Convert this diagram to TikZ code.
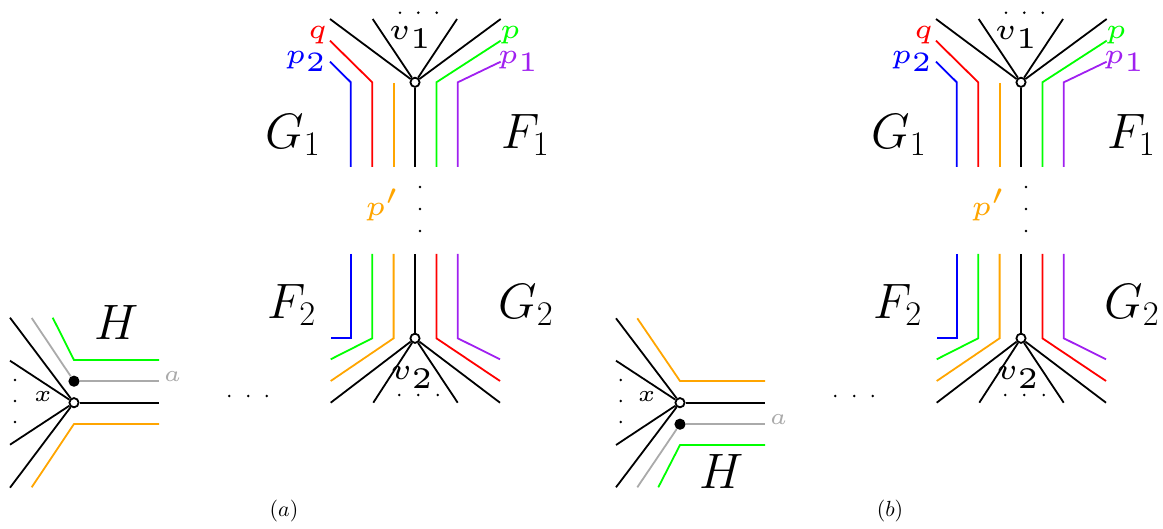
\documentclass[tikz,border=0pt]{standalone}
\usepackage{graphicx}
\usetikzlibrary{calc}
\definecolor{pathgreen}{RGB}{0,255,0}
\definecolor{pathorange}{RGB}{255,165,0}
\definecolor{pathpurple}{RGB}{160,32,240}
\definecolor{pathgray}{RGB}{170,170,170}
% small labels: tiny type blown up, as in the original figure
\newcommand{\tinytag}[2]{\scalebox{#1}{\tiny #2}}
\tikzset{
  vertex/.style={circle,draw=black,fill=white,line width=0.9pt,
    minimum size=4.6pt,inner sep=0pt},
  joint/.style={circle,fill=black,minimum size=5.6pt,inner sep=0pt},
  edge/.style={draw=black,line width=0.9pt},
  route/.style={line width=0.9pt},
  big label/.style={inner sep=0pt,font=\fontsize{24}{28}\selectfont},
  path label/.style={inner sep=0pt},
  end label/.style={inner sep=0pt},
  ell/.style={fill=black},
}

\begin{document}
\begin{tikzpicture}[x=0.5pt,y=-0.5pt]
  \path[use as bounding box] (0,0) rectangle (1163,529);
  % the central part (v1, v2 and the paths) is the same in (a) and (b)
  \foreach \s/\t in {0/a,606/b} {
  \begin{scope}[shift={(\s,0)}]
    \node[vertex] (v1\t) at (415,82.3) {};
    \node[vertex] (v2\t) at (415,338.3) {};
    \foreach \ex in {330,372.7,457,500.7} {\draw[edge] (v1\t) -- (\ex,19);}
    \draw[edge] (v1\t) -- (415,167);
    \draw[route,blue] (330,61.7) -- (350.8,82.3) -- (350.8,167);
    \draw[route,red] (330,40.7) -- (372.2,82.3) -- (372.2,167);
    \draw[route,pathorange] (393.6,83) -- (393.6,167);
    \draw[route,pathgreen] (500.7,40.7) -- (436.4,82.3) -- (436.4,167);
    \draw[route,pathpurple] (500.7,61.7) -- (457.8,82.3) -- (457.8,167);
    \foreach \x in {400,418.3,436.7} {\fill[ell] (\x,12.7) circle (1.4);}
    \node[path label] (v1l\t) at (411,38) {\tinytag{3}{$v_1$}};
    \node[path label,text=red] (q\t) at (317.5,35.5) {\tinytag{2.8}{$q$}};
    \node[path label,text=blue] (p2\t) at (306.5,61.5) {\tinytag{2.8}{$p_2$}};
    \node[path label,text=pathgreen] (p\t) at (510,35) {\tinytag{2.8}{$p$}};
    \node[path label,text=pathpurple] (p1\t) at (519,61.5) {\tinytag{2.8}{$p_1$}};
    \node[big label] (G1\t) at (293,135) {$G_1$};
    \node[big label] (F1\t) at (525.5,135) {$F_1$};
    % gap between the two halves
    \node[path label,text=pathorange] (pp\t) at (383,205) {\tinytag{2.8}{$p'$}};
    \foreach \y in {187,209,231} {\fill[ell] (420,\y) circle (1.4);}
    % lower vertex
    \draw[edge] (v2\t) -- (415,254);
    \foreach \ex in {330.7,373.3,457.7,500} {\draw[edge] (v2\t) -- (\ex,402.7);}
    \draw[route,blue] (350.8,254) -- (350.8,338.3) -- (330.7,338.3);
    \draw[route,pathgreen] (372.2,254) -- (372.2,338.3) -- (330.7,359.3);
    \draw[route,pathorange] (393.6,254) -- (393.6,338.3) -- (330.7,381);
    \draw[route,red] (436.4,254) -- (436.4,338.3) -- (500,381);
    \draw[route,pathpurple] (457.8,254) -- (457.8,338.3) -- (500,359.3);
    \foreach \x in {399.3,418.3,437.7} {\fill[ell] (\x,395) circle (1.4);}
    \node[path label] (v2l\t) at (412.5,378) {\tinytag{3}{$v_2$}};
    \node[big label] (F2\t) at (292,305) {$F_2$};
    \node[big label] (G2\t) at (526,305) {$G_2$};
    \foreach \x in {229.3,248.3,266.7} {\fill[ell] (\x,396) circle (1.4);}
  \end{scope}
  }
  % (a): H above x
  \node[vertex] (xa) at (74,402.7) {};
  \node[joint] (ja) at (74,381.2) {};
  \foreach \y in {317.7,360.7,444.7,487.7} {\draw[edge] (xa) -- (10,\y);}
  \draw[edge] (xa) -- (159,402.7);
  \draw[route,pathgray] (31.7,318) -- (ja);
  \draw[route,pathgray] (ja) -- (159,381.2)
    node[end label,anchor=base west,xshift=1.8pt,text=pathgray] (aa) {\tinytag{2.3}{$a$}};
  \draw[route,pathgreen] (52.7,317.7) -- (74,360) -- (159,360);
  \draw[route,pathorange] (31.7,487.3) -- (74,424) -- (159,424);
  \foreach \y in {380,401,422} {\fill[ell] (15,\y) circle (1.4);}
  \node[end label] (xla) at (43,397) {\tinytag{2.3}{$x$}};
  \node[big label] (Ha) at (117,322.5) {$H$};
  \node[end label,font=\fontsize{11}{13}\selectfont] (capa) at (284,511) {$(a)$};
  % (b): H below x
  \node[vertex] (xb) at (680,402.7) {};
  \node[joint] (jb) at (680,424.2) {};
  \foreach \y in {318.3,360.7,445,487.3} {\draw[edge] (xb) -- (616,\y);}
  \draw[edge] (xb) -- (765,402.7);
  \draw[route,pathorange] (637.3,318.3) -- (680,381) -- (765,381);
  \draw[route,pathgray] (637.3,487.3) -- (jb);
  \draw[route,pathgray] (jb) -- (765,424.2)
    node[end label,anchor=base west,xshift=1.8pt,text=pathgray] (ab) {\tinytag{2.3}{$a$}};
  \draw[route,pathgreen] (658.3,487.3) -- (680,445) -- (765,445);
  \foreach \y in {380,401,422} {\fill[ell] (620.7,\y) circle (1.4);}
  \node[end label] (xlb) at (646.7,396.7) {\tinytag{2.3}{$x$}};
  \node[big label] (Hb) at (722,471) {$H$};
  \node[end label,font=\fontsize{11}{13}\selectfont] (capb) at (890,511) {$(b)$};
\end{tikzpicture}
\end{document}
